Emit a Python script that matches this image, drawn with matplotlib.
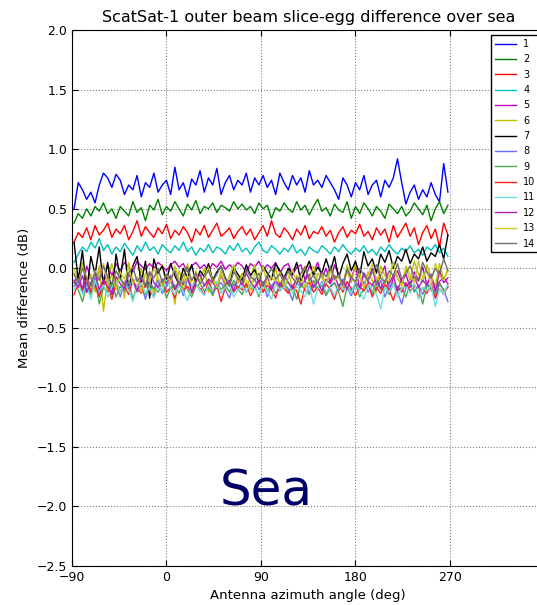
import numpy as np
import matplotlib
matplotlib.use('Agg')
import matplotlib.pyplot as plt

# azimuth sample positions (deg)
azimuth = np.arange(-88, 269, 4)

s1 = [0.50, 0.72, 0.66, 0.58, 0.64, 0.55, 0.70, 0.80, 0.76, 0.68,
      0.79, 0.74, 0.62, 0.70, 0.66, 0.78, 0.60, 0.72, 0.68, 0.80,
      0.64, 0.70, 0.74, 0.62, 0.85, 0.66, 0.72, 0.60, 0.75, 0.70,
      0.82, 0.64, 0.76, 0.70, 0.84, 0.62, 0.72, 0.78, 0.66, 0.74,
      0.70, 0.80, 0.64, 0.76, 0.70, 0.78, 0.68, 0.74, 0.62, 0.80,
      0.72, 0.66, 0.78, 0.70, 0.76, 0.64, 0.82, 0.70, 0.74, 0.68,
      0.78, 0.72, 0.66, 0.58, 0.76, 0.70, 0.60, 0.72, 0.66, 0.78,
      0.62, 0.70, 0.74, 0.60, 0.74, 0.68, 0.76, 0.92, 0.72, 0.54,
      0.64, 0.70, 0.58, 0.66, 0.60, 0.72, 0.62, 0.56, 0.88, 0.64]
s2 = [0.38, 0.46, 0.42, 0.50, 0.44, 0.52, 0.48, 0.55, 0.46, 0.50,
      0.42, 0.52, 0.48, 0.44, 0.56, 0.47, 0.51, 0.40, 0.53, 0.49,
      0.58, 0.45, 0.52, 0.48, 0.56, 0.50, 0.44, 0.54, 0.49, 0.57,
      0.46, 0.52, 0.50, 0.55, 0.47, 0.53, 0.51, 0.48, 0.56, 0.50,
      0.54, 0.49, 0.52, 0.46, 0.55, 0.50, 0.53, 0.42, 0.51, 0.48,
      0.55, 0.50, 0.47, 0.56, 0.49, 0.53, 0.45, 0.52, 0.58, 0.48,
      0.51, 0.44, 0.54, 0.49, 0.47, 0.56, 0.42, 0.52, 0.46, 0.55,
      0.50, 0.44, 0.52, 0.48, 0.42, 0.54, 0.50, 0.46, 0.52, 0.44,
      0.48, 0.55, 0.50, 0.45, 0.53, 0.40, 0.50, 0.56, 0.46, 0.53]
s3 = [0.22, 0.30, 0.26, 0.34, 0.24, 0.36, 0.28, 0.32, 0.38, 0.26,
      0.33, 0.29, 0.36, 0.24, 0.31, 0.40, 0.27, 0.35, 0.30, 0.26,
      0.34, 0.29, 0.37, 0.25, 0.32, 0.28, 0.35, 0.30, 0.22, 0.33,
      0.28, 0.36, 0.26, 0.32, 0.38, 0.27, 0.30, 0.34, 0.25, 0.31,
      0.35, 0.28, 0.33, 0.24, 0.30, 0.36, 0.27, 0.40, 0.29, 0.26,
      0.34, 0.30, 0.24, 0.33, 0.28, 0.36, 0.25, 0.31, 0.29, 0.35,
      0.27, 0.32, 0.22, 0.30, 0.35, 0.26, 0.32, 0.29, 0.37, 0.27,
      0.31, 0.24, 0.34, 0.28, 0.33, 0.22, 0.36, 0.26, 0.32, 0.38,
      0.27, 0.34, 0.20, 0.30, 0.36, 0.25, 0.33, 0.18, 0.38, 0.28]
s4 = [0.05, 0.12, 0.18, 0.14, 0.22, 0.17, 0.25, 0.15, 0.20, 0.12,
      0.18, 0.14, 0.21, 0.16, 0.11, 0.19, 0.14, 0.22, 0.15, 0.18,
      0.12, 0.20, 0.16, 0.13, 0.19, 0.15, 0.22, 0.14, 0.18, 0.11,
      0.17, 0.14, 0.20, 0.13, 0.18, 0.16, 0.12, 0.19, 0.15, 0.21,
      0.14, 0.17, 0.12, 0.18, 0.22, 0.15, 0.13, 0.19, 0.16, 0.12,
      0.17, 0.14, 0.20, 0.13, 0.16, 0.11, 0.18, 0.15, 0.13, 0.19,
      0.16, 0.12, 0.18, 0.14, 0.20, 0.15, 0.12, 0.17, 0.14, 0.19,
      0.13, 0.16, 0.11, 0.18, 0.14, 0.20, 0.15, 0.12, 0.17, 0.14,
      0.19, 0.13, 0.16, 0.11, 0.18, 0.15, 0.20, 0.13, 0.17, 0.10]
s5 = [-0.12, -0.05, -0.18, 0.02, -0.08, -0.15, 0.00, -0.10, 0.03, -0.06,
      0.04, -0.02, 0.05, 0.01, -0.03, 0.06, 0.02, -0.01, 0.04, 0.00,
      0.05, 0.02, -0.02, 0.03, 0.06, 0.01, 0.04, -0.03, 0.02, 0.05,
      0.00, 0.03, -0.02, 0.04, 0.01, 0.06, -0.01, 0.03, 0.00, 0.05,
      0.02, -0.03, 0.04, 0.01, 0.06, -0.02, 0.03, 0.00, 0.05, -0.04,
      0.02, 0.04, -0.06, 0.01, 0.03, -0.10, 0.02, -0.04, 0.05, -0.08,
      0.00, -0.12, 0.03, -0.05, -0.15, 0.01, -0.08, 0.02, -0.18, -0.04,
      -0.10, 0.00, -0.14, -0.06, 0.02, -0.20, -0.08, -0.02, -0.12, -0.05,
      -0.16, -0.03, -0.10, 0.01, -0.14, -0.06, -0.20, -0.02, -0.12, -0.08]
s6 = [0.00, -0.10, 0.05, -0.15, -0.05, -0.20, 0.02, -0.36, -0.08, 0.04,
      -0.12, -0.02, -0.25, 0.05, -0.10, -0.18, 0.00, -0.14, -0.06, -0.22,
      -0.04, 0.03, -0.16, -0.08, -0.30, -0.02, -0.12, 0.04, -0.18, -0.06,
      -0.10, 0.00, -0.20, -0.08, -0.14, -0.02, -0.18, -0.06, 0.02, -0.12,
      -0.04, -0.16, -0.08, 0.03, -0.12, -0.20, -0.05, -0.10, 0.00, -0.15,
      -0.08, -0.02, -0.18, -0.06, -0.12, 0.02, -0.10, -0.16, -0.04, -0.08,
      -0.14, 0.00, -0.10, -0.06, -0.18, -0.02, -0.12, 0.04, -0.08, -0.15,
      -0.03, -0.10, -0.20, 0.02, -0.06, -0.12, 0.05, -0.08, -0.14, 0.00,
      -0.10, 0.06, -0.05, -0.12, 0.03, -0.08, -0.15, 0.04, -0.10, -0.02]
s7 = [0.22, -0.10, 0.15, -0.20, 0.10, -0.05, 0.18, -0.15, 0.05, -0.22,
      0.12, -0.08, 0.16, -0.18, 0.02, 0.10, -0.12, 0.06, -0.25, 0.08,
      -0.04, 0.02, -0.10, 0.04, -0.06, -0.14, 0.00, -0.08, 0.03, -0.12,
      -0.02, -0.07, 0.04, -0.10, -0.03, 0.02, -0.08, -0.15, 0.01, -0.05,
      -0.10, 0.03, -0.06, -0.01, -0.12, 0.02, -0.04, -0.09, 0.04, -0.02,
      -0.08, 0.00, -0.05, 0.05, -0.10, -0.02, 0.06, -0.06, 0.01, -0.04,
      0.08, -0.03, 0.10, -0.08, 0.04, 0.12, -0.02, 0.06, -0.06, 0.14,
      0.02, 0.08, -0.04, 0.12, 0.05, 0.15, 0.00, 0.10, 0.06, 0.16,
      0.04, 0.12, 0.08, 0.18, 0.06, 0.13, 0.10, 0.20, 0.08, 0.28]
s8 = [-0.15, -0.10, -0.20, -0.12, -0.18, -0.08, -0.22, -0.14, -0.10, -0.19,
      -0.13, -0.24, -0.11, -0.16, -0.09, -0.20, -0.14, -0.26, -0.12, -0.17,
      -0.10, -0.21, -0.15, -0.11, -0.18, -0.13, -0.23, -0.09, -0.16, -0.12,
      -0.19, -0.14, -0.10, -0.22, -0.15, -0.12, -0.18, -0.25, -0.13, -0.17,
      -0.11, -0.20, -0.14, -0.09, -0.18, -0.12, -0.24, -0.15, -0.10, -0.19,
      -0.13, -0.17, -0.27, -0.12, -0.16, -0.10, -0.21, -0.14, -0.18, -0.11,
      -0.22, -0.15, -0.12, -0.19, -0.09, -0.16, -0.23, -0.13, -0.17, -0.11,
      -0.20, -0.14, -0.18, -0.10, -0.24, -0.15, -0.12, -0.20, -0.30, -0.16,
      -0.11, -0.19, -0.14, -0.22, -0.12, -0.17, -0.25, -0.13, -0.18, -0.28]
s9 = [-0.12, -0.18, -0.28, -0.14, -0.22, -0.10, -0.30, -0.16, -0.20, -0.12,
      -0.24, -0.15, -0.19, -0.11, -0.26, -0.14, -0.18, -0.22, -0.13, -0.17,
      -0.20, -0.12, -0.25, -0.16, -0.14, -0.21, -0.11, -0.18, -0.24, -0.15,
      -0.13, -0.19, -0.16, -0.23, -0.12, -0.18, -0.14, -0.20, -0.10, -0.17,
      -0.22, -0.13, -0.18, -0.15, -0.24, -0.11, -0.19, -0.14, -0.21, -0.16,
      -0.12, -0.20, -0.15, -0.26, -0.13, -0.18, -0.22, -0.10, -0.17, -0.14,
      -0.23, -0.16, -0.12, -0.20, -0.32, -0.15, -0.19, -0.13, -0.24, -0.17,
      -0.14, -0.21, -0.11, -0.18, -0.15, -0.22, -0.13, -0.19, -0.16, -0.24,
      -0.12, -0.20, -0.15, -0.30, -0.14, -0.18, -0.22, -0.12, -0.19, -0.16]
s10 = [-0.22, -0.12, -0.18, -0.08, -0.20, -0.14, -0.24, -0.10, -0.16, -0.26,
       -0.12, -0.19, -0.15, -0.22, -0.10, -0.17, -0.21, -0.13, -0.19, -0.24,
       -0.14, -0.11, -0.20, -0.16, -0.25, -0.12, -0.18, -0.15, -0.21, -0.13,
       -0.17, -0.22, -0.11, -0.19, -0.14, -0.28, -0.16, -0.12, -0.20, -0.15,
       -0.18, -0.13, -0.23, -0.16, -0.11, -0.20, -0.14, -0.18, -0.25, -0.12,
       -0.17, -0.21, -0.14, -0.19, -0.30, -0.15, -0.12, -0.20, -0.16, -0.22,
       -0.13, -0.18, -0.26, -0.14, -0.20, -0.11, -0.17, -0.23, -0.15, -0.19,
       -0.12, -0.24, -0.16, -0.21, -0.13, -0.18, -0.27, -0.15, -0.20, -0.12,
       -0.19, -0.14, -0.24, -0.16, -0.21, -0.13, -0.25, -0.17, -0.22, -0.15]
s11 = [-0.18, -0.12, -0.22, -0.15, -0.26, -0.10, -0.19, -0.14, -0.24, -0.16,
       -0.11, -0.20, -0.13, -0.18, -0.28, -0.15, -0.12, -0.21, -0.16, -0.25,
       -0.13, -0.19, -0.10, -0.17, -0.22, -0.14, -0.20, -0.27, -0.15, -0.12,
       -0.18, -0.23, -0.14, -0.19, -0.11, -0.21, -0.16, -0.13, -0.24, -0.18,
       -0.15, -0.20, -0.12, -0.17, -0.22, -0.14, -0.19, -0.26, -0.13, -0.18,
       -0.16, -0.11, -0.21, -0.15, -0.19, -0.24, -0.14, -0.30, -0.17, -0.12,
       -0.20, -0.16, -0.23, -0.13, -0.18, -0.15, -0.21, -0.11, -0.19, -0.26,
       -0.14, -0.18, -0.22, -0.34, -0.16, -0.20, -0.13, -0.24, -0.17, -0.15,
       -0.21, -0.12, -0.26, -0.16, -0.19, -0.14, -0.32, -0.17, -0.22, -0.13]
s12 = [-0.10, -0.16, -0.06, -0.20, -0.12, -0.04, -0.18, -0.09, -0.14, -0.22,
       -0.07, -0.13, -0.17, -0.05, -0.11, -0.19, -0.08, -0.15, -0.03, -0.12,
       -0.16, -0.09, -0.13, -0.06, -0.18, -0.10, -0.14, -0.07, -0.20, -0.11,
       -0.05, -0.15, -0.09, -0.12, -0.17, -0.06, -0.13, -0.10, -0.19, -0.08,
       -0.14, -0.04, -0.11, -0.16, -0.09, -0.13, -0.07, -0.18, -0.10, -0.15,
       -0.06, -0.12, -0.17, -0.08, -0.14, -0.10, -0.05, -0.16, -0.11, -0.19,
       -0.09, -0.13, -0.06, -0.15, -0.10, -0.18, -0.07, -0.12, -0.16, -0.04,
       -0.11, -0.14, -0.08, -0.17, -0.10, -0.13, -0.06, -0.19, -0.09, -0.15,
       -0.12, -0.07, -0.16, -0.10, -0.14, -0.05, -0.18, -0.11, -0.08, -0.13]
s13 = [-0.04, -0.12, 0.02, -0.08, -0.16, -0.02, -0.10, 0.04, -0.14, -0.06,
       -0.18, -0.03, -0.09, 0.01, -0.13, -0.07, -0.20, -0.04, -0.11, 0.00,
       -0.08, -0.15, -0.05, -0.12, 0.02, -0.09, -0.17, -0.06, -0.11, -0.02,
       -0.14, -0.07, 0.01, -0.10, -0.16, -0.05, -0.12, -0.08, 0.03, -0.13,
       -0.06, -0.10, -0.18, -0.04, -0.09, 0.02, -0.14, -0.07, -0.11, -0.03,
       -0.15, -0.08, -0.01, -0.12, -0.06, -0.16, -0.09, 0.02, -0.11, -0.05,
       -0.13, -0.02, -0.10, -0.07, -0.15, 0.03, -0.08, -0.12, -0.04, -0.17,
       -0.06, 0.04, -0.10, -0.03, -0.13, -0.07, 0.05, -0.09, -0.15, 0.02,
       -0.05, -0.12, 0.06, -0.08, -0.02, -0.14, 0.04, -0.06, -0.10, 0.00]
s14 = [-0.05, -0.12, 0.00, -0.08, -0.15, -0.03, -0.10, 0.02, -0.07, -0.13,
       -0.02, -0.09, -0.14, -0.04, 0.01, -0.11, -0.06, -0.16, -0.03, -0.08,
       0.00, -0.12, -0.05, -0.09, -0.02, -0.14, -0.06, 0.01, -0.10, -0.04,
       -0.13, -0.07, -0.02, -0.11, -0.05, 0.02, -0.09, -0.14, -0.03, -0.08,
       -0.12, -0.01, -0.07, -0.10, -0.04, -0.15, -0.06, 0.00, -0.09, -0.05,
       -0.11, -0.02, -0.08, -0.13, -0.04, 0.01, -0.10, -0.06, -0.12, -0.03,
       -0.07, 0.02, -0.09, -0.05, -0.14, -0.01, -0.08, -0.11, 0.00, -0.06,
       -0.10, -0.03, 0.03, -0.08, -0.12, -0.02, -0.06, 0.04, -0.09, -0.04,
       0.02, -0.07, -0.11, 0.05, -0.03, -0.08, 0.00, -0.05, 0.08, -0.02]

series = [s1, s2, s3, s4, s5, s6, s7, s8, s9, s10, s11, s12, s13, s14]
labels = [str(i) for i in range(1, 15)]
colors = ['b', 'g', 'r', 'c', 'm', 'y', 'k',
          '#6f6fff', '#4fa64f', '#ff2020', '#6fdfdf', '#b020c0', '#c8c828', '#6f6f6f']

plt.rcParams['font.family'] = 'DejaVu Sans'
plt.rcParams['xtick.direction'] = 'in'
plt.rcParams['ytick.direction'] = 'in'

fig = plt.figure(figsize=(5.37, 6.05), dpi=100)
ax = fig.add_axes([0.134, 0.0645, 0.880, 0.8855])

for s, lab, c in zip(series, labels, colors):
    ax.plot(azimuth, s, color=c, linewidth=1.0, label=lab)

ax.set_xlim(-90, 360)
ax.set_ylim(-2.5, 2.0)
ax.set_xticks([-90, 0, 90, 180, 270])
ax.set_yticks(np.arange(-2.5, 2.01, 0.5))
ax.tick_params(labelsize=9, top=True, right=True, length=4)
ax.grid(True, linestyle=':', color='gray', linewidth=0.8)

ax.set_title('ScatSat-1 outer beam slice-egg difference over sea', fontsize=11.5)
ax.set_xlabel('Antenna azimuth angle (deg)', fontsize=9.5)
ax.set_ylabel('Mean difference (dB)', fontsize=9.5)

ax.text(95, -1.99, 'Sea', fontsize=36, color='#000066', ha='center', va='baseline')

leg = ax.legend(loc='upper right', fontsize=7, handlelength=2.1, labelspacing=0.55,
                fancybox=False, framealpha=1, edgecolor='black', borderaxespad=0.5)
leg.get_frame().set_linewidth(1.0)

fig.savefig('out.png', dpi=100)
